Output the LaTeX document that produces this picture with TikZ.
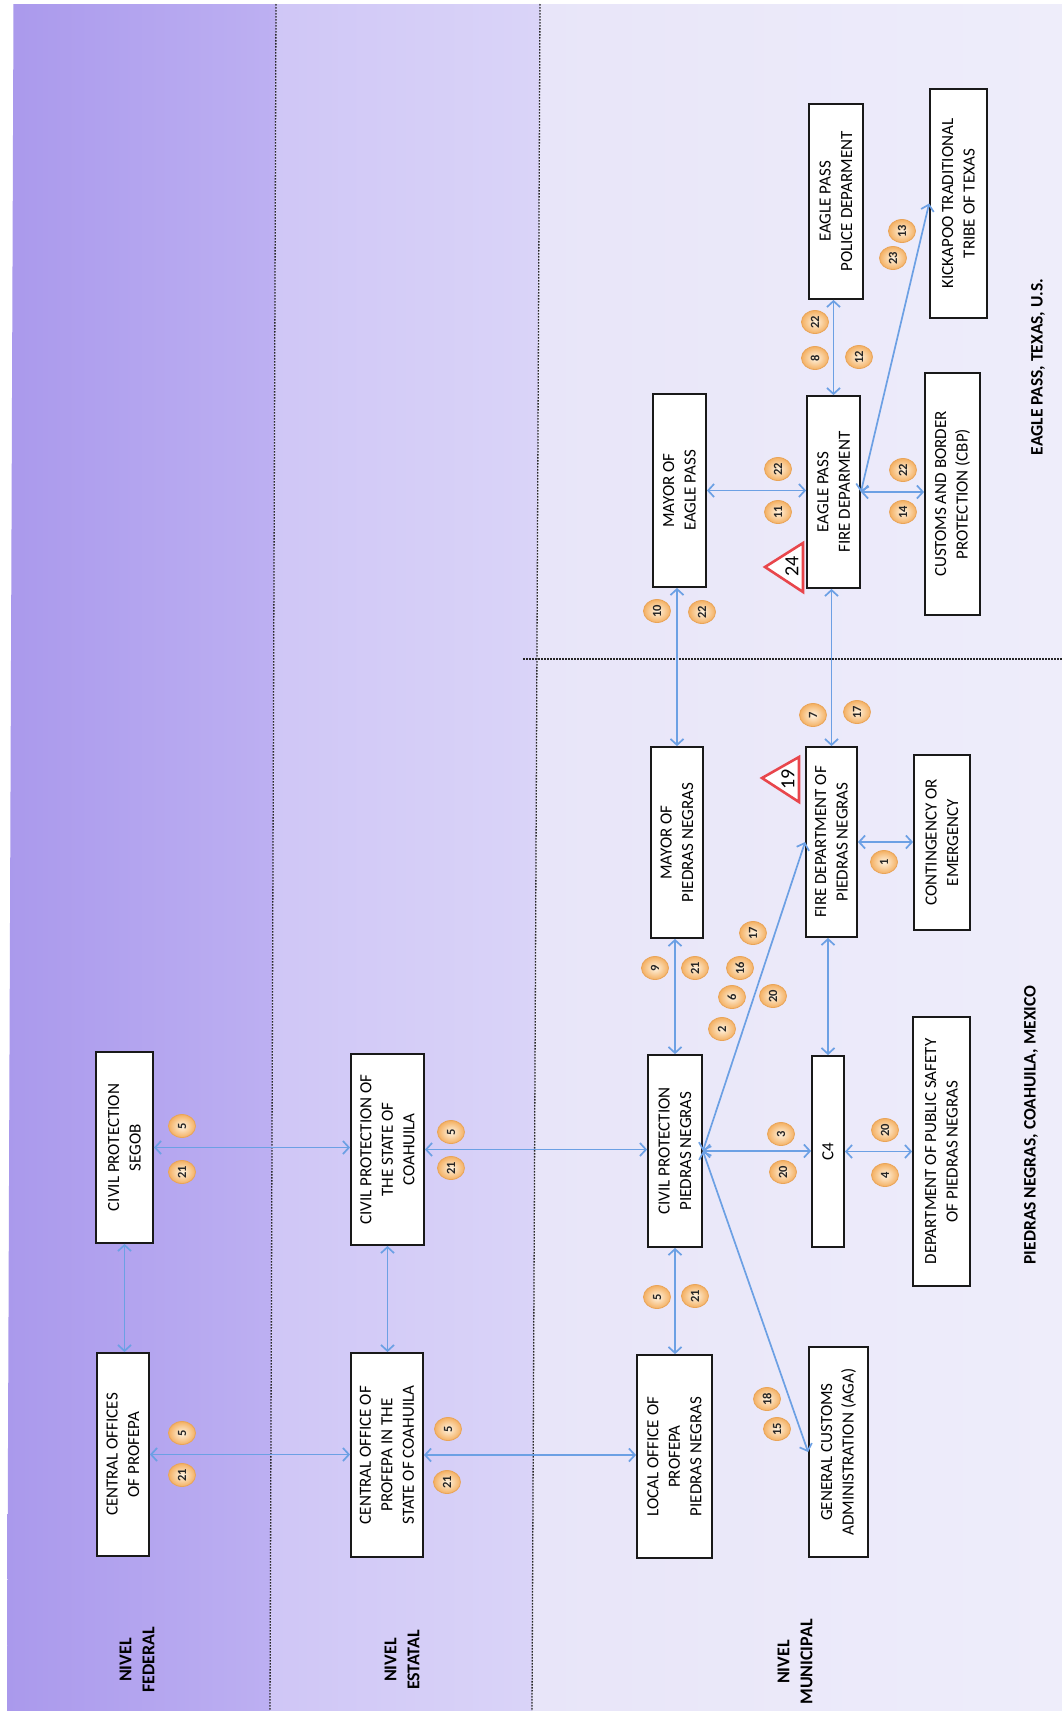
\documentclass[tikz,border=0pt]{standalone}
\usepackage{fontspec}
\setmainfont{Carlito}
\usetikzlibrary{arrows.meta,shapes.geometric}
\definecolor{fedL}{HTML}{AA99EC}
\definecolor{fedR}{HTML}{BDB0F2}
\definecolor{estL}{HTML}{CFC6F6}
\definecolor{estR}{HTML}{DAD4F8}
\definecolor{munL}{HTML}{E8E5F9}
\definecolor{munR}{HTML}{EEEDFA}
\definecolor{arrowblue}{HTML}{6CA0E4}
\definecolor{badgein}{HTML}{FFF4E2}
\definecolor{badgeout}{HTML}{F4B062}
\definecolor{badgeedge}{HTML}{E9A458}
\definecolor{trired}{HTML}{E8464C}
\begin{document}
\begin{tikzpicture}[x=1pt,y=-1pt,
  box/.style={draw=black!90, line width=1.8pt, fill=white, rotate=90, align=center, inner sep=2pt, font=\fontsize{17}{21.5}\selectfont},
  arr/.style={draw=arrowblue, line width=1.7pt, {Straight Barb[length=6pt,width=13pt]}-{Straight Barb[length=6pt,width=13pt]}},
  badge/.style={ellipse, draw=badgeedge, line width=0.8pt, inner color=badgein, outer color=badgeout, minimum width=23pt, minimum height=27pt, inner sep=0pt, rotate=90, font=\bfseries\fontsize{12.5}{13}\selectfont, text=black!85},
  lvl/.style={rotate=90, align=center, font=\bfseries\fontsize{18}{23}\selectfont},
  divider/.style={draw=black!85, line width=1.3pt, dash pattern=on 1.6pt off 1.4pt},
  tri/.style={draw=trired, line width=2.6pt, fill=white, line join=miter},
  trinum/.style={rotate=90, font=\fontsize{20}{22}\selectfont, inner sep=0pt}
]
\useasboundingbox (0,0) rectangle (1062,1711);
\fill[white] (0,0) rectangle (1062,1711);
% bands
\shade[left color=fedL, right color=fedR] (13.5,4) -- (276,4) -- (270,1711) -- (7,1711) -- cycle;
\shade[left color=estL, right color=estR] (276,4) -- (540,4) -- (532,1711) -- (270,1711) -- cycle;
\shade[left color=munL, right color=munR] (540,4) -- (1062,4) -- (1062,1711) -- (532,1711) -- cycle;
\draw[divider] (276,4) -- (270,1711);
\draw[divider] (540,4) -- (532,1711);
\draw[divider] (523,659) -- (1062,659);

% boxes
\node[box, minimum width=191pt, minimum height=57pt] (segob) at (124.5,1147.5) {CIVIL PROTECTION\\SEGOB};
\node[box, minimum width=203pt, minimum height=52pt] (cprofepa) at (123,1454.5) {CENTRAL OFFICES\\OF PROFEPA};
\node[box, minimum width=191pt, minimum height=73pt] (cpstate) at (387.5,1149.5) {CIVIL PROTECTION OF\\THE STATE OF\\COAHUILA};
\node[box, minimum width=204pt, minimum height=72pt] (profepastate) at (387,1455) {CENTRAL OFFICE OF\\PROFEPA IN THE\\STATE OF COAHUILA};
\node[box, minimum width=192pt, minimum height=54pt] (cppn) at (675,1151) {CIVIL PROTECTION\\PIEDRAS NEGRAS};
\node[box, minimum width=203pt, minimum height=75pt] (localprofepa) at (674.5,1456.5) {LOCAL OFFICE OF\\PROFEPA\\PIEDRAS NEGRAS};
\node[box, minimum width=210pt, minimum height=59pt] (aga) at (838.5,1452) {GENERAL CUSTOMS\\ADMINISTRATION (AGA)};
\node[box, minimum width=191pt, minimum height=32pt] (c4) at (828,1151.5) {C4};
\node[box, minimum width=269pt, minimum height=57pt] (dps) at (941.5,1151.5) {DEPARTMENT OF PUBLIC SAFETY\\OF PIEDRAS NEGRAS};
\node[box, minimum width=191pt, minimum height=52pt] (mayorpn) at (677,842.5) {MAYOR OF\\PIEDRAS NEGRAS};
\node[box, minimum width=190pt, minimum height=51pt] (firepn) at (831.5,842) {FIRE DEPARTMENT OF\\PIEDRAS NEGRAS};
\node[box, minimum width=175pt, minimum height=56pt] (contingency) at (942,842.5) {CONTINGENCY OR\\EMERGENCY};
\node[box, minimum width=193pt, minimum height=53pt] (mayorep) at (679.5,490.5) {MAYOR OF\\EAGLE PASS};
\node[box, minimum width=192pt, minimum height=53pt] (fireep) at (833.5,492) {EAGLE PASS\\FIRE DEPARMENT};
\node[box, minimum width=195pt, minimum height=54pt] (policeep) at (836,201.5) {EAGLE PASS\\POLICE DEPARMENT};
\node[box, minimum width=229pt, minimum height=57pt] (kickapoo) at (958.5,203.5) {KICKAPOO TRADITIONAL\\TRIBE OF TEXAS};
\node[box, minimum width=242pt, minimum height=55pt] (cbp) at (952.5,494) {CUSTOMS AND BORDER\\PROTECTION (CBP)};

% connectors
\draw[arr] (segob.west) -- (segob.west |- cprofepa.east);
\draw[arr] (cpstate.west) -- (cpstate.west |- profepastate.east);
\draw[arr] (segob.south) -- (segob.south -| cpstate.north);
\draw[arr] (cprofepa.south) -- (cprofepa.south -| profepastate.north);
\draw[arr] (cpstate.south) -- (cpstate.south -| cppn.north);
\draw[arr] (profepastate.south) -- (profepastate.south -| localprofepa.north);
\draw[arr] (cppn.west) -- (cppn.west |- localprofepa.east);
\draw[arr] (cppn.east) -- (cppn.east |- mayorpn.west);
\draw[arr] (cppn.south) -- (cppn.south -| c4.north);
\draw[arr] (c4.south) -- (c4.south -| dps.north);
\draw[arr] (c4.east) -- (c4.east |- firepn.west);
\draw[arr] (cppn.south) -- (firepn.north);
\draw[arr] (cppn.south) -- (aga.north);
\draw[arr] (firepn.south) -- (firepn.south -| contingency.north);
\draw[arr] (mayorpn.east) -- (mayorpn.east |- mayorep.west);
\draw[arr] (firepn.east) -- (firepn.east |- fireep.west);
\draw[arr] (mayorep.south) -- (mayorep.south -| fireep.north);
\draw[arr] (fireep.east) -- (fireep.east |- policeep.west);
\draw[arr] (fireep.south) -- (fireep.south -| cbp.north);
\draw[arr] (fireep.south) -- (kickapoo.north);

% badges
\node[badge] (b1) at (182,1126) {5};
\node[badge] (b2) at (182,1172) {21};
\node[badge] (b3) at (182,1433) {5};
\node[badge] (b4) at (182,1475) {21};
\node[badge] (b5) at (451,1132) {5};
\node[badge] (b6) at (451,1168) {21};
\node[badge] (b7) at (448,1429) {5};
\node[badge] (b8) at (447,1482) {21};
\node[badge] (b9) at (657,1297) {5};
\node[badge] (b10) at (695,1296) {21};
\node[badge] (b11) at (655,968) {9};
\node[badge] (b12) at (695,968) {21};
\node[badge] (b13) at (657,611) {10};
\node[badge] (b14) at (702,612) {22};
\node[badge] (b15) at (781,1134) {3};
\node[badge] (b16) at (783,1172) {20};
\node[badge] (b17) at (885,1130) {20};
\node[badge] (b18) at (885,1175) {4};
\node[badge] (b19) at (722,1029) {2};
\node[badge] (b20) at (732,997) {6};
\node[badge] (b21) at (740,968) {16};
\node[badge] (b22) at (753,933) {17};
\node[badge] (b23) at (773,996) {20};
\node[badge] (b24) at (813,715) {7};
\node[badge] (b25) at (857,712) {17};
\node[badge] (b26) at (884,862) {1};
\node[badge] (b27) at (767,1399) {18};
\node[badge] (b28) at (777,1429) {15};
\node[badge] (b29) at (778,469) {22};
\node[badge] (b30) at (778,512) {11};
\node[badge] (b31) at (815,322) {22};
\node[badge] (b32) at (815,358) {8};
\node[badge] (b33) at (859,357) {12};
\node[badge] (b34) at (903,470) {22};
\node[badge] (b35) at (903,512) {14};
\node[badge] (b36) at (893,258) {23};
\node[badge] (b37) at (902,231) {13};

% warning triangles
\draw[tri] (762,778) -- (799,757) -- (799,802) -- cycle;
\node[trinum] (t19) at (788,779) {19};
\draw[tri] (765,567) -- (803,543) -- (803,592) -- cycle;
\node[trinum] (t24) at (792,566) {24};

% level labels
\node[lvl] (lfed) at (137,1660) {NIVEL\\FEDERAL};
\node[lvl] (lest) at (402,1660) {NIVEL\\ESTATAL};
\node[lvl] (lmun) at (795,1662) {NIVEL\\MUNICIPAL};
\node[lvl, font=\bfseries\fontsize{17.5}{21}\selectfont] (lpn) at (1031,1125) {PIEDRAS NEGRAS, COAHUILA, MEXICO};
\node[lvl, font=\bfseries\fontsize{17.5}{21}\selectfont] (lep) at (1038,367) {EAGLE PASS, TEXAS, U.S.};
\end{tikzpicture}
\end{document}
